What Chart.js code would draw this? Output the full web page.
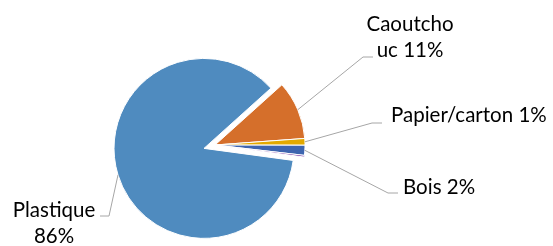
<!DOCTYPE html>
<html>
<head>
<meta charset="utf-8">
<script src="https://cdn.jsdelivr.net/npm/chart.js@4/dist/chart.umd.min.js"></script>
<style>
  html, body { margin: 0; padding: 0; background: #fff; overflow: hidden; }
  #wrap { width: 553px; height: 246px; }
</style>
</head>
<body>
<div id="wrap"><canvas id="pieChart" width="553" height="246"></canvas></div>
<script>
// Data
const categories = ["Plastique", "Caoutchouc", "Papier/carton", "Bois", "Autres"]
const shares = [86.2, 10.5, 1.2, 1.8, 0.3]
const colors = ["#4F8BBF", "#D56F2B", "#E3A900", "#3E65AF", "#7030A0"]

// Exploded distance per slice (px)
const explode = [11.5, 0, 0, 0, 0]

// Label layout (elbow point, line end, text anchor, wrap position)
const labelLayout = [
  { elbow: [109, 216], end: [100, 216], text: [54, 217], wrap: 9 },
  { elbow: [363, 57], end: [373, 57], text: [410, 31], wrap: 8 },
  { elbow: [372, 123], end: [382, 123], text: [391, 122], align: "left" },
  { elbow: [388, 193], end: [398, 193], text: [403, 194], align: "left" },
  null,
]

// Pull slices out from the centre along their middle angle, like Excel's explosion
const explodeSlices = {
  id: "explodeSlices",
  afterDatasetUpdate(chart, args) {
    const meta = chart.getDatasetMeta(args.index)
    meta.data.forEach((arc, i) => {
      const d = explode[i] || 0
      if (!d) return
      const mid = (arc.startAngle + arc.endAngle) / 2
      arc.x += Math.cos(mid) * d
      arc.y += Math.sin(mid) * d
    })
  },
}

const leaderLabels = {
  id: "leaderLabels",
  afterDraw(chart) {
    const ctx = chart.ctx
    const meta = chart.getDatasetMeta(0)
    const data = chart.data.datasets[0].data
    const total = data.reduce((a, b) => a + b, 0)
    ctx.save()
    meta.data.forEach((arc, i) => {
      const lay = labelLayout[i]
      if (!lay) return
      const mid = (arc.startAngle + arc.endAngle) / 2
      const ax = arc.x + Math.cos(mid) * arc.outerRadius
      const ay = arc.y + Math.sin(mid) * arc.outerRadius

      ctx.strokeStyle = "#A6A6A6"
      ctx.lineWidth = 1
      ctx.beginPath()
      ctx.moveTo(ax, ay)
      ctx.lineTo(lay.elbow[0], lay.elbow[1])
      ctx.lineTo(lay.end[0], lay.end[1])
      ctx.stroke()

      const pct = Math.round((data[i] / total) * 100)
      const full = `${chart.data.labels[i]} ${pct}%`
      let lines = [full]
      if (lay.wrap) lines = [full.slice(0, lay.wrap).trim(), full.slice(lay.wrap).trim()]

      ctx.fillStyle = "#000"
      ctx.font = "20.5px Lato, 'Open Sans', sans-serif"
      ctx.textAlign = lay.align || "center"
      ctx.textBaseline = "alphabetic"
      lines.forEach((line, k) => {
        ctx.fillText(line, lay.text[0], lay.text[1] + k * 26)
      })
    })
    ctx.restore()
  },
}

const chartEl = document.getElementById("pieChart")
const chart = new Chart(chartEl, {
  type: "pie",
  data: {
    labels: categories,
    datasets: [
      {
        data: shares,
        backgroundColor: colors,
        borderColor: "#FFFFFF",
        borderWidth: 1,
      },
    ],
  },
  options: {
    responsive: false,
    animation: false,
    radius: 90,
    rotation: 97.7,
    layout: {
      padding: { left: 0, right: 123, top: 44, bottom: 0 },
    },
    plugins: {
      legend: { display: false },
      tooltip: { enabled: false },
    },
  },
  plugins: [explodeSlices, leaderLabels],
})
</script>
</body>
</html>
